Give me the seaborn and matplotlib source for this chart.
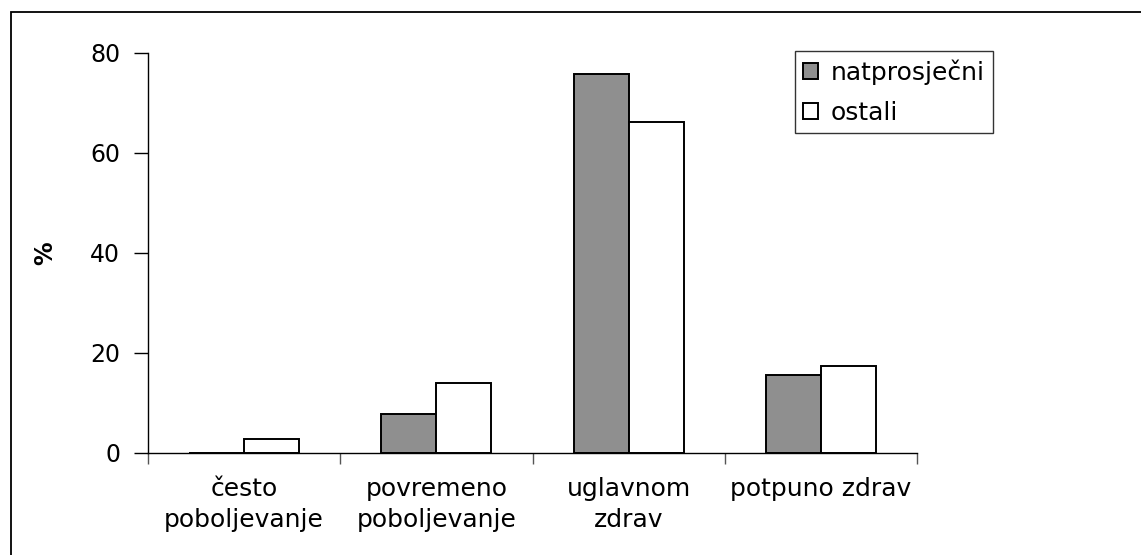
import matplotlib
matplotlib.use("Agg")
import matplotlib.pyplot as plt
import seaborn as sns
import pandas as pd
from matplotlib.patches import Rectangle
from matplotlib.ticker import FixedLocator, NullFormatter

categories = ["često\npoboljevanje", "povremeno\npoboljevanje", "uglavnom\nzdrav", "potpuno zdrav"]
series_names = ["natprosječni", "ostali"]
natprosjecni = [0.0, 7.8, 75.8, 15.6]
ostali = [2.8, 14.0, 66.2, 17.4]
y_ticks = [0, 20, 40, 60, 80]

df = pd.DataFrame({
    "kategorija": categories * 2,
    "skupina": [series_names[0]] * 4 + [series_names[1]] * 4,
    "postotak": natprosjecni + ostali,
})

sns.set_theme(style="white")
plt.rcParams["font.family"] = ["DejaVu Sans"]
plt.rcParams["text.color"] = "black"
plt.rcParams["xtick.color"] = "black"
plt.rcParams["ytick.color"] = "black"
plt.rcParams["axes.labelcolor"] = "black"

fig = plt.figure(figsize=(11.41, 5.55), dpi=100)
ax = fig.add_axes([148 / 1141, 102 / 555, (917 - 148) / 1141, 400 / 555])

sns.barplot(data=df, x="kategorija", y="postotak", hue="skupina",
            palette={series_names[0]: "#8f8f8f", series_names[1]: "#ffffff"},
            edgecolor="black", linewidth=1.4, width=0.572, gap=0,
            order=categories, hue_order=series_names, ax=ax, legend=False)

ax.set_xlim(-0.5, 3.5)
ax.set_ylim(0, 80)
ax.set_yticks(y_ticks)
ax.set_yticklabels([str(v) for v in y_ticks], fontsize=17)
ax.tick_params(axis="y", direction="out", length=10, width=1, color="black", pad=10, left=True)

ax.xaxis.set_major_locator(FixedLocator([-0.5, 0.5, 1.5, 2.5, 3.5]))
ax.xaxis.set_major_formatter(NullFormatter())
ax.xaxis.set_minor_locator(FixedLocator([0, 1, 2, 3]))
ax.set_xticklabels(categories, minor=True, fontsize=18, linespacing=1.4)
ax.tick_params(axis="x", which="major", direction="out", length=8, width=1, color="#555555", bottom=True)
ax.tick_params(axis="x", which="minor", length=0, pad=17)

ax.set_xlabel("")
ax.set_ylabel("%", fontsize=17, fontweight="bold")
ax.yaxis.set_label_coords((57 - 148) / 769, 0.5)

for s in ["top", "right"]:
    ax.spines[s].set_visible(False)
for s in ["left", "bottom"]:
    ax.spines[s].set_color("black")
    ax.spines[s].set_linewidth(1.0)

handles = [Rectangle((0, 0), 1, 1, facecolor="#8f8f8f", edgecolor="black", linewidth=1.4),
           Rectangle((0, 0), 1, 1, facecolor="#ffffff", edgecolor="black", linewidth=1.4)]
leg = fig.legend(handles, series_names, loc="upper left",
                 bbox_to_anchor=(795 / 1141, 1 - 51 / 555),
                 fontsize=18, frameon=True, fancybox=False, shadow=False,
                 handlelength=0.6, handleheight=0.6, handletextpad=0.5,
                 labelspacing=0.65, borderpad=0.33, borderaxespad=0)
leg.get_frame().set_edgecolor("black")
leg.get_frame().set_linewidth(1.0)

fig.patches.append(Rectangle((11 / 1141, -0.1), 1.2, (555 - 12) / 555 + 0.1,
                             transform=fig.transFigure, fill=False,
                             edgecolor="black", linewidth=1.3, zorder=0))

fig.savefig("out.png", dpi=100)
